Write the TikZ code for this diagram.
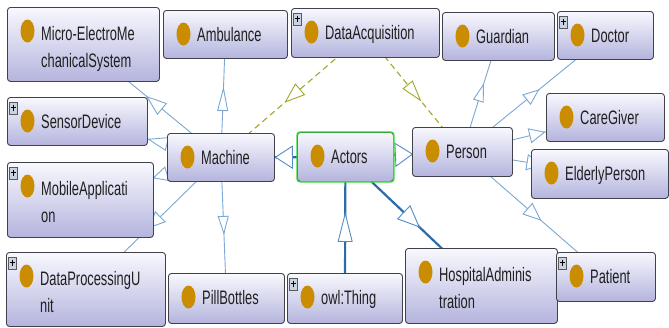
\documentclass[tikz,border=0pt]{standalone}
\usepackage{fontspec}
\setmainfont{Liberation Sans}
\usetikzlibrary{decorations.markings,calc}
\pgfdeclarelayer{background}
\pgfsetlayers{background,main}

\definecolor{boxtop}{RGB}{248,248,254}
\definecolor{boxbot}{RGB}{180,180,222}
\definecolor{boxline}{RGB}{65,65,75}
\definecolor{thinblue}{RGB}{122,168,210}
\definecolor{thickblue}{RGB}{45,108,168}
\definecolor{tricol}{RGB}{85,140,200}
\definecolor{dashol}{RGB}{165,165,45}
\definecolor{dotgold}{RGB}{202,140,0}
\definecolor{actgreen}{RGB}{50,220,50}
\definecolor{iconfill}{RGB}{200,212,228}

\newcommand\sx[1]{\scalebox{0.66}[1]{#1}}

\tikzset{
  clsbox/.style={draw=boxline, line width=0.9pt, rounded corners=3pt,
    top color=boxtop, bottom color=boxbot, anchor=north west, inner sep=0pt},
  lbl/.style={anchor=base west, inner sep=0pt, text=black!88,
    font=\fontsize{19.5}{27}\selectfont},
  edgethin/.style={draw=thinblue, line width=0.9pt},
  edgethick/.style={draw=thickblue, line width=2.2pt},
  edgedash/.style={draw=dashol, line width=1.1pt, dash pattern=on 6pt off 4pt},
  tri/.style n args={4}{postaction={decorate, decoration={markings,
    mark=at position #1pt with {\draw[solid, line width=0.9pt, draw=#4, fill=white, line join=miter]
      (0,0) -- (-#2,#3) -- (-#2,-#3) -- cycle;}}}}
}

% one-line class box: name, x, y, w, h, text
\newcommand\ocls[6]{%
  \node[clsbox, minimum width=#4pt, minimum height=#5pt] (#1) at (#2,#3) {};
  \fill[dotgold] ($(#1.north west)+(20.5,24)$) ellipse [x radius=7pt, y radius=11.5pt];
  \node[lbl] (#1-t) at ($(#1.north west)+(34,31)$) {\sx{#6}};
}
% two-line class box: name, x, y, w, h, line1, line2
\newcommand\oclsii[7]{%
  \node[clsbox, minimum width=#4pt, minimum height=#5pt] (#1) at (#2,#3) {};
  \fill[dotgold] ($(#1.north west)+(20.5,24)$) ellipse [x radius=7pt, y radius=11.5pt];
  \node[lbl] (#1-t) at ($(#1.north west)+(34,33)$)
    {\vtop{\baselineskip=27pt\hbox{\sx{#6}}\hbox{\sx{#7}}}};
}
\newcommand\plusicon[1]{%
  \draw[draw=gray!70!black, fill=iconfill, line width=0.6pt]
    ($(#1.north west)+(2.5,5.5)$) rectangle ++(8,12);
  \draw[black, line width=1pt] ($(#1.north west)+(6.5,7.5)$) -- ++(0,6)
    ($(#1.north west)+(3.8,10.5)$) -- ++(5.4,0);
}

\begin{document}
\begin{tikzpicture}[x=1pt,y=-1pt]
\path[use as bounding box] (0,0) rectangle (669,327);

\oclsii{mems}{7}{7}{152}{74}{Micro-ElectroMe}{chanicalSystem}
\ocls{amb}{163}{10}{124}{48}{Ambulance}
\ocls{daq}{291}{8}{148}{49}{DataAcquisition}
\ocls{guard}{442}{12}{112}{48}{Guardian}
\ocls{doc}{557}{11}{96}{48}{Doctor}
\ocls{sens}{7}{97}{140}{48}{SensorDevice}
\oclsii{mob}{7}{162}{146}{75}{MobileApplicati}{on}
\ocls{mach}{167}{133}{107}{48}{Machine}
\ocls{act}{297}{132}{96}{49}{Actors}
\ocls{pers}{412}{127}{100}{49}{Person}
\ocls{care}{546}{93}{118}{48}{CareGiver}
\ocls{eld}{531}{149}{137}{49}{ElderlyPerson}
\oclsii{dpu}{6}{252}{159}{74}{DataProcessingU}{nit}
\ocls{pill}{168}{273}{116}{50}{PillBottles}
\ocls{owl}{287}{273}{115}{50}{owl:Thing}
\oclsii{hosp}{405}{248}{152}{75}{HospitalAdminis}{tration}
\ocls{pat}{556}{252}{99}{49}{Patient}

\draw[actgreen, line width=1.4pt, rounded corners=3pt] (act.north west) rectangle (act.south east);

\plusicon{daq}
\plusicon{doc}
\plusicon{sens}
\plusicon{mob}
\plusicon{dpu}
\plusicon{owl}
\plusicon{pat}

\begin{pgfonlayer}{background}
  \fill[white] (0,0) rectangle (669,327);
  \draw[edgethin, tri={95.5}{19}{7}{thinblue}] (mach.center) -- (mems.center);
  \draw[edgethin, tri={69}{22}{5}{thinblue}] (mach.center) -- (amb.center);
  \draw[edgethin, tri={74.7}{19}{6.5}{thinblue}] (mach.center) -- (sens.center);
  \draw[edgethin, tri={70.5}{14}{7}{thinblue}] (mach.center) -- (mob.center);
  \draw[edgethin, tri={100}{15}{7}{thinblue}] (mach.center) -- (dpu.center);
  \draw[edgethin, tri={76}{17}{5}{thinblue}] (mach.center) -- (pill.center);
  \draw[edgedash, tri={105.5}{19}{7}{dashol}] (daq.center) -- (mach.center);
  \draw[edgedash, tri={87}{20}{6}{dashol}] (daq.center) -- (pers.center);
  \draw[edgethick, tri={70}{17}{11}{tricol}] (act.center) -- (mach.center);
  \draw[edgethick, tri={67}{17}{11.5}{tricol}] (act.center) -- (pers.center);
  \draw[edgethick, tri={85}{28}{7}{tricol}] (owl.center) -- (act.center);
  \draw[edgethick, tri={101.5}{21}{9}{tricol}] (act.center) -- (hosp.center);
  \draw[edgethin, tri={70.7}{17}{5}{thinblue}] (pers.center) -- (guard.center);
  \draw[edgethin, tri={98}{15}{6}{thinblue}] (pers.center) -- (doc.center);
  \draw[edgethin, tri={84.4}{15}{7}{thinblue}] (pers.center) -- (care.center);
  \draw[edgethin, tri={80.5}{15}{7.5}{thinblue}] (pers.center) -- (eld.center);
  \draw[edgethin, tri={103.5}{17}{7}{thinblue}] (pers.center) -- (pat.center);
\end{pgfonlayer}
\end{tikzpicture}
\end{document}
